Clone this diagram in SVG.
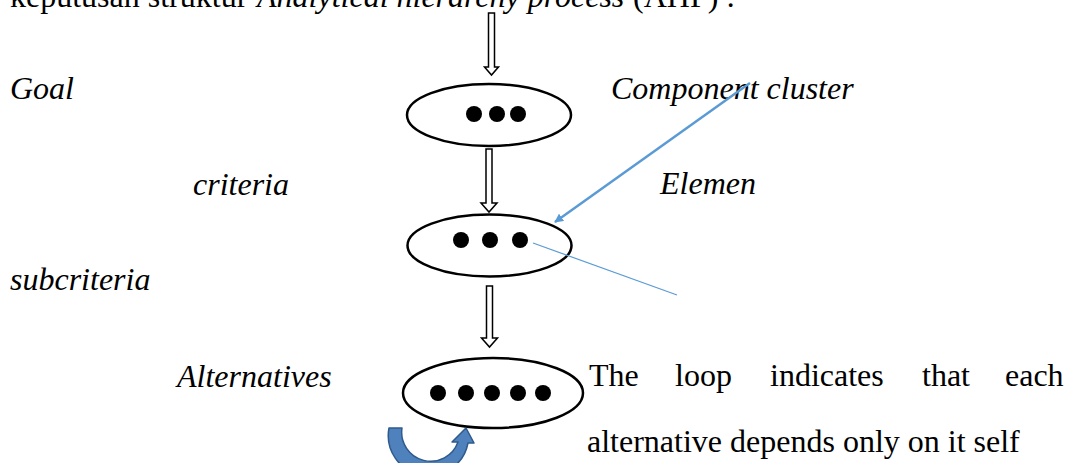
<svg xmlns="http://www.w3.org/2000/svg" width="1077" height="463" viewBox="0 0 1077 463">
<style>
text{font-family:"Liberation Serif","Times New Roman",serif;font-size:32px;fill:#000}
.i{font-style:italic}
.node{fill:#fff;stroke:#000;stroke-width:2.5}
.dot{fill:#000}
.harrow{fill:#fff;stroke:#000;stroke-width:1.5;stroke-linejoin:miter}
.blue{stroke:#5B9BD5;fill:none}
</style>
<defs>
<marker id="bh" viewBox="0 0 10 10" refX="9" refY="5" markerWidth="9" markerHeight="9" markerUnits="userSpaceOnUse" orient="auto">
<path d="M0,0 L10,5 L0,10 Z" fill="#5B9BD5"/>
</marker>
</defs>
<rect width="1077" height="463" fill="#fff"/>
<g id="heading">
<text x="10" y="7">keputusan struktur</text>
<text x="257" y="7" class="i">Analytical hierarchy process</text>
<text x="633" y="7">(AHP) :</text>
</g>
<g id="labels">
<text x="10" y="99" class="i">Goal</text>
<text x="611" y="99" class="i">Component cluster</text>
<text x="193" y="195" class="i">criteria</text>
<text x="660" y="194" class="i">Elemen</text>
<text x="10" y="290" class="i">subcriteria</text>
<text x="177" y="387" class="i">Alternatives</text>
</g>
<g id="note">
<text x="589" y="386">The</text>
<text x="675" y="386">loop</text>
<text x="770" y="386">indicates</text>
<text x="922" y="386">that</text>
<text x="1005" y="386">each</text>
<text x="587" y="452">alternative depends only on it self</text>
</g>
<g id="goal">
<ellipse class="node" cx="489" cy="115" rx="82" ry="31"/>
<circle class="dot" cx="474" cy="114" r="8"/>
<circle class="dot" cx="497" cy="114" r="8"/>
<circle class="dot" cx="518" cy="114" r="8"/>
</g>
<g id="criteria">
<ellipse class="node" cx="489.5" cy="245.5" rx="82" ry="31"/>
<circle class="dot" cx="461" cy="240" r="8"/>
<circle class="dot" cx="490" cy="240" r="8"/>
<circle class="dot" cx="520" cy="240" r="8"/>
</g>
<g id="alternatives">
<ellipse class="node" cx="493" cy="393" rx="90" ry="35"/>
<circle class="dot" cx="438" cy="393" r="8"/>
<circle class="dot" cx="466" cy="393" r="8"/>
<circle class="dot" cx="492" cy="393" r="8"/>
<circle class="dot" cx="518" cy="393" r="8"/>
<circle class="dot" cx="543" cy="393" r="8"/>
</g>
<g id="connectors">
<path class="harrow" d="M488.5,13 L494.5,13 L494.5,67 L498.5,67 L491.5,75 L484.5,67 L488.5,67 Z"/>
<path class="harrow" d="M486,149 L492,149 L492,203 L497,203 L489,212 L481,203 L486,203 Z"/>
<path class="harrow" d="M486.5,286 L492.5,286 L492.5,338 L497.5,338 L489.5,347 L481.5,338 L486.5,338 Z"/>
<line class="blue" x1="750" y1="83" x2="555" y2="222" stroke-width="2.5" marker-end="url(#bh)"/>
<line class="blue" x1="533" y1="243" x2="677" y2="295" stroke-width="1.2"/>
<path d="M389,428 L402,428 A29,29 0 0 0 458,442 L452,442 L466,428 L474,443 L468,443 A40,40 0 0 1 389,428 Z" fill="#4F81BD" stroke="#2F5A8C" stroke-width="1.5" stroke-linejoin="round"/>
</g>
</svg>
